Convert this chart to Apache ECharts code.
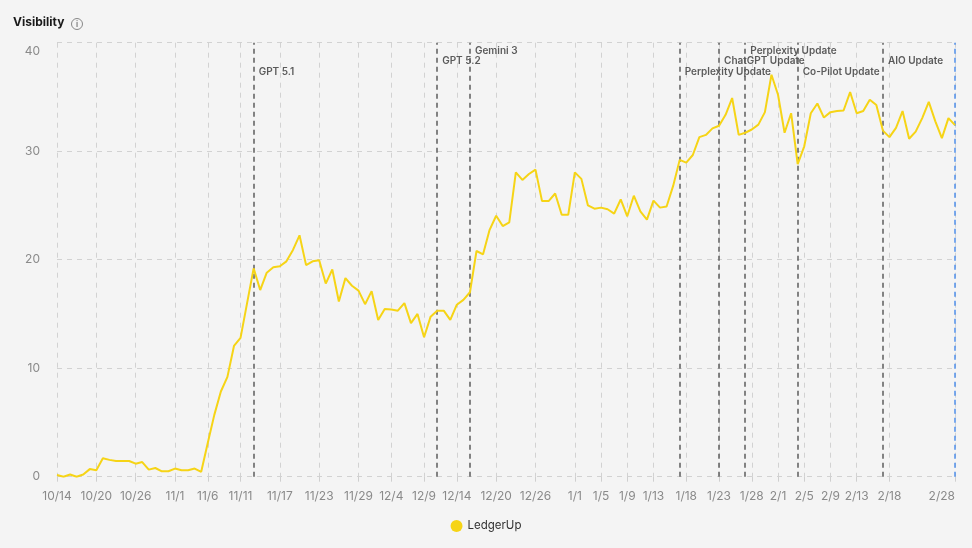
<!DOCTYPE html>
<html>
<head>
<meta charset="utf-8">
<script src="https://cdn.jsdelivr.net/npm/echarts@6/dist/echarts.min.js"></script>
<style>
  html, body { margin: 0; padding: 0; background: #f4f4f4; }
  #chart { width: 972px; height: 548px; }
</style>
</head>
<body>
<div id="chart"></div>
<script>
// daily points from 10/14 to 2/28
const startDay = '2025-10-14';
const endDay = '2026-02-28';

const visibility = [
  0.15, 0.0, 0.2, 0.0, 0.2, 0.7, 0.6, 1.7, 1.55, 1.45,
  1.45, 1.45, 1.2, 1.35, 0.65, 0.8, 0.5, 0.5, 0.75, 0.6,
  0.6, 0.75, 0.45, 3.1, 5.7, 7.85, 9.2, 12.05, 12.8, 16.0,
  19.2, 17.2, 18.8, 19.3, 19.4, 19.85, 20.9, 22.25, 19.5, 19.85,
  19.95, 17.8, 19.1, 16.15, 18.3, 17.6, 17.15, 15.9, 17.1, 14.45,
  15.45, 15.4, 15.3, 16.0, 14.15, 15.0, 12.85, 14.75, 15.3, 15.3,
  14.45, 15.85, 16.3, 17.0, 20.8, 20.5, 22.75, 24.05, 23.1, 23.45,
  28.05, 27.35, 27.9, 28.3, 25.4, 25.4, 26.1, 24.15, 24.15, 28.05,
  27.45, 25.0, 24.7, 24.8, 24.65, 24.25, 25.55, 24.0, 25.9, 24.45,
  23.7, 25.45, 24.8, 24.9, 26.8, 29.2, 28.95, 29.65, 31.3, 31.5,
  32.1, 32.35, 33.35, 34.9, 31.5, 31.7, 32.0, 32.45, 33.6, 37.05,
  35.2, 31.7, 33.5, 28.8, 30.45, 33.5, 34.4, 33.1, 33.6, 33.7,
  33.75, 35.45, 33.5, 33.7, 34.75, 34.25, 31.9, 31.3, 32.15, 33.7,
  31.15, 31.8, 33.05, 34.55, 32.75, 31.2, 33.05, 32.4
];

const tickLabels = [
  '10/14', '10/20', '10/26', '11/1', '11/6', '11/11', '11/17', '11/23', '11/29',
  '12/4', '12/9', '12/14', '12/20', '12/26', '1/1', '1/5', '1/9', '1/13', '1/18',
  '1/23', '1/28', '2/1', '2/5', '2/9', '2/13', '2/18', '2/28'
];

const eventDates = ['11/13', '12/11', '12/16', '1/17', '1/23', '1/27', '2/4', '2/17'];
const eventNames = [
  'GPT 5.1', 'GPT 5.2', 'Gemini 3', 'Perplexity Update',
  'ChatGPT Update', 'Perplexity Update', 'Co-Pilot Update', 'AIO Update'
];
const todayDate = '2/28';

// build the category list
const dates = [];
for (let d = new Date(startDay + 'T00:00:00'); d <= new Date(endDay + 'T00:00:00'); d.setDate(d.getDate() + 1)) {
  dates.push((d.getMonth() + 1) + '/' + d.getDate());
}

const showTick = (idx, val) => tickLabels.indexOf(val) >= 0;
const labelLevels = [37.3, 38.35, 39.27];
const font = 'Inter, "Noto Sans", sans-serif';

const chart = echarts.init(document.getElementById('chart'));
chart.setOption({
  backgroundColor: '#f4f4f4',
  textStyle: { fontFamily: font },
  animation: false,
  title: {
    text: 'Visibility',
    left: 13,
    top: 16,
    padding: 0,
    textStyle: { fontSize: 12, fontWeight: 700, color: '#1a1a1a', fontFamily: font }
  },
  graphic: [
    {
      type: 'group',
      left: 69,
      top: 16,
      children: [
        { type: 'circle', shape: { cx: 6, cy: 6, r: 5.5 }, style: { fill: 'none', stroke: '#888', lineWidth: 1 } },
        { type: 'text', style: { text: 'i', x: 6, y: 6.5, align: 'center', verticalAlign: 'middle', fill: '#777', font: '600 8px Inter' } }
      ]
    }
  ],
  legend: {
    data: ['LedgerUp'],
    bottom: 11,
    left: 'center',
    icon: 'circle',
    itemWidth: 12,
    itemHeight: 12,
    textStyle: { fontSize: 11.5, color: '#333', fontFamily: font }
  },
  grid: { left: 57, right: 17, top: 42.7, bottom: 71.3 },
  xAxis: {
    type: 'category',
    data: dates,
    boundaryGap: false,
    axisLine: { show: false },
    axisTick: { show: true, interval: showTick, length: 5, lineStyle: { color: '#cfcfcf' } },
    axisLabel: {
      interval: showTick,
      margin: 14,
      fontSize: 12,
      color: '#8a8a8a',
      alignMaxLabel: 'right',
      fontFamily: font
    },
    splitLine: {
      show: true,
      interval: showTick,
      lineStyle: { color: '#d2d2d2', type: [5, 5], width: 1 }
    }
  },
  yAxis: {
    type: 'value',
    min: 0,
    max: 40,
    interval: 10,
    axisLine: { show: false },
    axisTick: { show: false },
    axisLabel: {
      margin: 17,
      formatter: v => v === 40 ? '{top|40}' : '{n|' + v + '}',
      rich: {
        top: { fontSize: 12, color: '#8a8a8a', padding: [18, 0, 0, 0], fontFamily: font },
        n: { fontSize: 12, color: '#8a8a8a', fontFamily: font }
      }
    },
    splitLine: { lineStyle: { color: '#d2d2d2', type: [5, 5], width: 1 } }
  },
  series: [
    {
      name: 'LedgerUp',
      type: 'line',
      data: visibility,
      z: 5,
      showSymbol: false,
      symbol: 'circle',
      itemStyle: { color: '#f6d416' },
      lineStyle: { color: '#f6d416', width: 2 }
    },
    {
      name: 'events',
      type: 'scatter',
      silent: true,
      z: 3,
      symbolSize: 0,
      data: eventDates.map((d, i) => [d, labelLevels[i % 3]]),
      label: {
        show: true,
        position: 'right',
        distance: 5,
        fontSize: 10,
        fontWeight: 600,
        color: '#333',
        fontFamily: font,
        formatter: p => eventNames[p.dataIndex]
      },
      markLine: {
        silent: true,
        symbol: ['none', 'none'],
        label: { show: false },
        lineStyle: { color: '#5c5c5c', type: [5, 4], width: 1.5 },
        data: eventDates.map(d => ({ xAxis: d })).concat([
          { xAxis: todayDate, lineStyle: { color: '#4f8fea', type: [5, 4], width: 1.5 } }
        ])
      }
    }
  ]
});
</script>
</body>
</html>
